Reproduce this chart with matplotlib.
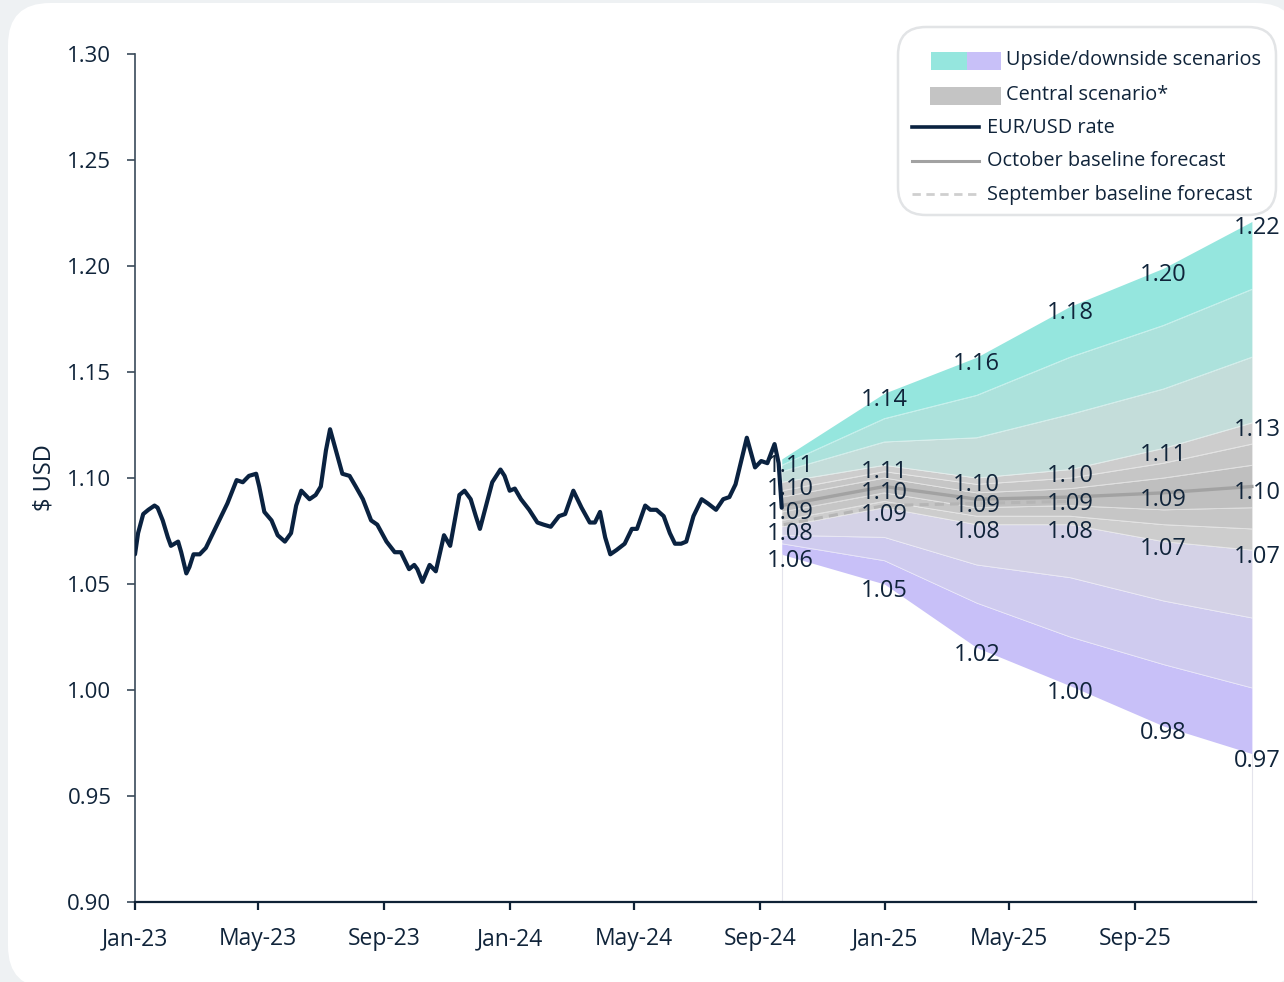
import matplotlib.pyplot as plt
import matplotlib.dates as mdates
from matplotlib.patches import FancyBboxPatch, Rectangle
import pandas as pd

plt.rcParams['font.family'] = ['Open Sans', 'DejaVu Sans']

# EUR/USD spot history
rate_dates = [
    '2023-01-01', '2023-01-04', '2023-01-09', '2023-01-14', '2023-01-20', '2023-01-23',
    '2023-01-28', '2023-02-02', '2023-02-05', '2023-02-12', '2023-02-15', '2023-02-20',
    '2023-02-23', '2023-02-27', '2023-03-05', '2023-03-11', '2023-03-18', '2023-03-24',
    '2023-04-01', '2023-04-10', '2023-04-16', '2023-04-22', '2023-04-29', '2023-05-02',
    '2023-05-07', '2023-05-14', '2023-05-20', '2023-05-27', '2023-06-02', '2023-06-07',
    '2023-06-12', '2023-06-20', '2023-06-26', '2023-07-01', '2023-07-06', '2023-07-10',
    '2023-07-14', '2023-07-22', '2023-07-29', '2023-08-04', '2023-08-11', '2023-08-19',
    '2023-08-25', '2023-09-03', '2023-09-11', '2023-09-17', '2023-09-25', '2023-09-30',
    '2023-10-03', '2023-10-08', '2023-10-15', '2023-10-21', '2023-10-29', '2023-11-04',
    '2023-11-13', '2023-11-18', '2023-11-24', '2023-11-29', '2023-12-03', '2023-12-09',
    '2023-12-15', '2023-12-23', '2023-12-27', '2024-01-01', '2024-01-06', '2024-01-12',
    '2024-01-20', '2024-01-28', '2024-02-03', '2024-02-10', '2024-02-18', '2024-02-24',
    '2024-03-03', '2024-03-11', '2024-03-19', '2024-03-24', '2024-03-29', '2024-04-03',
    '2024-04-08', '2024-04-14', '2024-04-22', '2024-04-29', '2024-05-04', '2024-05-12',
    '2024-05-17', '2024-05-23', '2024-05-30', '2024-06-05', '2024-06-10', '2024-06-16',
    '2024-06-21', '2024-06-28', '2024-07-06', '2024-07-12', '2024-07-20', '2024-07-27',
    '2024-08-02', '2024-08-08', '2024-08-13', '2024-08-19', '2024-08-23', '2024-08-27',
    '2024-09-02', '2024-09-08', '2024-09-15', '2024-09-19', '2024-09-22',
]
rate_values = [
    1.064, 1.074, 1.083, 1.085, 1.087, 1.086,
    1.080, 1.072, 1.068, 1.070, 1.065, 1.055,
    1.058, 1.064, 1.064, 1.067, 1.074, 1.080,
    1.088, 1.099, 1.098, 1.101, 1.102, 1.096,
    1.084, 1.080, 1.073, 1.070, 1.074, 1.087,
    1.094, 1.090, 1.092, 1.096, 1.113, 1.123,
    1.116, 1.102, 1.101, 1.096, 1.090, 1.080,
    1.078, 1.070, 1.065, 1.065, 1.057, 1.059,
    1.057, 1.051, 1.059, 1.056, 1.073, 1.068,
    1.092, 1.094, 1.090, 1.082, 1.076, 1.087,
    1.098, 1.104, 1.101, 1.094, 1.095, 1.090,
    1.085, 1.079, 1.078, 1.077, 1.082, 1.083,
    1.094, 1.086, 1.079, 1.079, 1.084, 1.072,
    1.064, 1.066, 1.069, 1.076, 1.076, 1.087,
    1.085, 1.085, 1.082, 1.074, 1.069, 1.069,
    1.070, 1.082, 1.090, 1.088, 1.085, 1.090,
    1.091, 1.097, 1.107, 1.119, 1.112, 1.105,
    1.108, 1.107, 1.116, 1.107, 1.086,
]

# forecast fan, quarterly points, boundaries listed from top to bottom
fan_dates = ['2024-09-22', '2024-12-31', '2025-03-31', '2025-06-30', '2025-09-29', '2025-12-24']
upside_outer = [1.109, 1.140, 1.157, 1.181, 1.199, 1.221]
upside_mid = [1.106, 1.128, 1.139, 1.157, 1.172, 1.189]
upside_inner = [1.103, 1.117, 1.119, 1.130, 1.142, 1.157]
central_hi = [1.098, 1.106, 1.100, 1.104, 1.114, 1.126]
central_hi2 = [1.094, 1.103, 1.097, 1.100, 1.107, 1.116]
central_hi1 = [1.091, 1.100, 1.093, 1.095, 1.100, 1.106]
october_baseline = [1.087, 1.096, 1.090, 1.091, 1.093, 1.096]
central_lo1 = [1.084, 1.093, 1.086, 1.087, 1.085, 1.086]
central_lo2 = [1.080, 1.089, 1.082, 1.082, 1.078, 1.076]
central_lo = [1.077, 1.086, 1.078, 1.078, 1.070, 1.066]
downside_inner = [1.073, 1.072, 1.059, 1.053, 1.042, 1.034]
downside_mid = [1.069, 1.061, 1.041, 1.025, 1.012, 1.001]
downside_outer = [1.064, 1.050, 1.020, 1.002, 0.983, 0.970]

september_dates = ['2024-09-24', '2024-12-31', '2025-03-31', '2025-06-30']
september_baseline = [1.078, 1.087, 1.088, 1.089]

navy = '#0A2240'
txt = '#10243A'

levels = [upside_outer, upside_mid, upside_inner, central_hi, central_hi2, central_hi1,
          october_baseline, central_lo1, central_lo2, central_lo,
          downside_inner, downside_mid, downside_outer]
band_colors = ['#95E6DE', '#ACE2DC', '#C4DDDA', '#CDCDCD', '#C6C6C6', '#BFBFBF',
               '#BFBFBF', '#C6C6C6', '#CDCDCD', '#D4D2E6', '#CFCBEF', '#C8C0F8']

fig = plt.figure(figsize=(12.84, 9.82), dpi=100, facecolor='#EEF1F3')

# white card behind everything
bg = fig.add_axes([0, 0, 1, 1], zorder=-2)
bg.set_xlim(0, 1284)
bg.set_ylim(982, 0)
bg.axis('off')
bg.add_patch(FancyBboxPatch((8, 3), 1290, 985, boxstyle='round,pad=0,rounding_size=42',
                            fc='white', ec='none'))

ax = fig.add_axes([135 / 1284, 1 - 902 / 982, (1256 - 135) / 1284, (902 - 54) / 982])
ax.patch.set_alpha(0)

rx = pd.to_datetime(rate_dates)
fx = pd.to_datetime(fan_dates)
sx = pd.to_datetime(september_dates)

for upper, lower, c in zip(levels[:-1], levels[1:], band_colors):
    ax.fill_between(fx, lower, upper, color=c, lw=0, zorder=1)
for lvl in levels[1:-1]:
    ax.plot(fx, lvl, color='white', lw=0.6, alpha=0.55, zorder=1.2)

ax.vlines([fx[0], fx[-1]], 0.90, [downside_outer[0], downside_outer[-1]],
          colors='#E4E4EC', lw=0.8, zorder=1)

ax.plot(sx, september_baseline, color='#B5B5B5', lw=2.2, ls=(0, (3, 2)), zorder=2)
ax.plot(fx, october_baseline, color='#A2A2A2', lw=2.4, zorder=2.1)
ax.plot(rx, rate_values, color=navy, lw=3.0, solid_joinstyle='round',
        solid_capstyle='round', zorder=3)

# value labels at each forecast point
for i, d in enumerate(fx):
    dx = 6 if i == 0 else (4 if i == len(fx) - 1 else 0)
    for series in (upside_outer, central_hi, october_baseline, central_lo, downside_outer):
        v = series[i]
        ax.annotate(f'{v:.2f}', (d, v), xytext=(dx, -5), textcoords='offset points',
                    ha='center', va='center', fontsize=17, color=txt, zorder=4)

ax.set_ylim(0.90, 1.30)
ax.set_xlim(pd.Timestamp('2023-01-01'), pd.Timestamp('2025-12-28'))
ax.set_yticks([0.90, 0.95, 1.00, 1.05, 1.10, 1.15, 1.20, 1.25, 1.30])
ax.yaxis.set_major_formatter(plt.FormatStrFormatter('%.2f'))
ax.xaxis.set_major_locator(mdates.MonthLocator(bymonth=[1, 5, 9]))
ax.xaxis.set_major_formatter(mdates.DateFormatter('%b-%y'))

for s in ('top', 'right'):
    ax.spines[s].set_visible(False)
ax.spines['left'].set_color('#3A4A5A')
ax.spines['left'].set_linewidth(1.2)
ax.spines['bottom'].set_color('#0F2236')
ax.spines['bottom'].set_linewidth(1.6)
ax.tick_params(axis='y', length=6, width=1.2, color='#3A4A5A', pad=11, labelsize=16, labelcolor=txt)
ax.tick_params(axis='x', length=6, width=1.6, color='#0F2236', pad=12, labelsize=16.5, labelcolor=txt)
ax.set_ylabel('$ USD', fontsize=17, color=txt, labelpad=8)

# legend drawn in figure pixels
lg = fig.add_axes([0, 0, 1, 1], zorder=5)
lg.set_xlim(0, 1284)
lg.set_ylim(982, 0)
lg.axis('off')
lg.patch.set_alpha(0)
lg.add_patch(FancyBboxPatch((898, 27), 378, 188, boxstyle='round,pad=0,rounding_size=28',
                            fc='white', ec='#E2E4E6', lw=1.8))
lg.add_patch(Rectangle((931, 52), 36, 18, fc='#95E6DE', ec='none'))
lg.add_patch(Rectangle((967, 52), 34, 18, fc='#C8C0F8', ec='none'))
lg.add_patch(Rectangle((930, 87), 71, 18, fc='#C4C4C4', ec='none'))
lg.plot([912, 979], [127, 127], color=navy, lw=2.6)
lg.plot([912, 979], [161, 161], color='#A2A2A2', lw=2.2)
lg.plot([912, 979], [194, 194], color='#CFCFCF', lw=2.0, ls=(0, (3, 2)))
legend_items = [(1006, 60, 'Upside/downside scenarios'),
                (1006, 95, 'Central scenario*'),
                (987, 128, 'EUR/USD rate'),
                (987, 161, 'October baseline forecast'),
                (987, 195, 'September baseline forecast')]
for x, y, t in legend_items:
    lg.text(x, y, t, fontsize=14.3, color=txt, va='center', ha='left')

fig.savefig('out.png', dpi=100, facecolor=fig.get_facecolor())
